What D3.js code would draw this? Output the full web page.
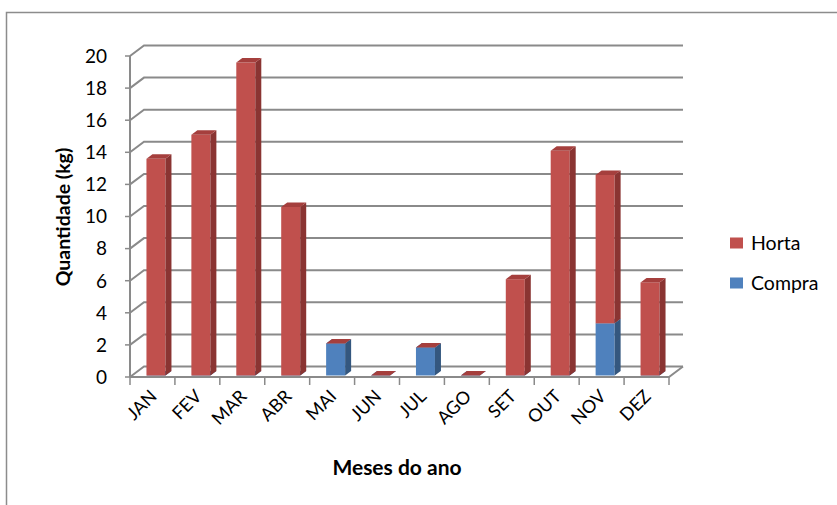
<!DOCTYPE html>
<html>
<head>
<meta charset="utf-8">
<script src="https://cdn.jsdelivr.net/npm/d3@7"></script>
<style>
  html, body { margin: 0; padding: 0; background: #fff; }
  svg { display: block; font-family: Lato, "Open Sans", sans-serif; }
</style>
</head>
<body>
<svg id="chart" width="837" height="505"></svg>
<script>
// Monthly quantities (kg): produced in the garden vs. purchased
const months = ["JAN", "FEV", "MAR", "ABR", "MAI", "JUN", "JUL", "AGO", "SET", "OUT", "NOV", "DEZ"];
const horta  = [13.5, 15, 19.5, 10.5, 0, 0, 0, 0, 6, 14, 9.25, 5.8];
const compra = [0, 0, 0, 0, 2, 0, 1.75, 0, 0, 0, 3.25, 0];
const yTicks = [0, 2, 4, 6, 8, 10, 12, 14, 16, 18, 20];
const seriesNames = ["Horta", "Compra"];

const colors = {
  Horta:  { front: "#C0504D", side: "#8A3432", top: "#A53F3D" },
  Compra: { front: "#4F81BD", side: "#34577F", top: "#4471A6" }
};

const svg = d3.select("#chart");

// outer chart-area frame
svg.append("rect")
  .attr("x", 6.5).attr("y", 12.5)
  .attr("width", 900).attr("height", 600)
  .attr("fill", "none").attr("stroke", "#8c8c8c").attr("stroke-width", 1.5);

// plot geometry: front plane, back wall offset for the 3-D look
const x0 = 130, x1 = 669;
const depth = { dx: 14, dy: -10.5 };
const x = d3.scaleBand().domain(months).range([x0, x1]);
const yFront = d3.scaleLinear().domain([0, 20]).range([377, 56]);
const yBar = d3.scaleLinear().domain([0, 20]).range([375.5, 54.5]);

const grid = svg.append("g").attr("stroke", "#8a8a8a").attr("fill", "none");

// back-wall gridlines with their receding segment to the front axis
yTicks.forEach(v => {
  const yf = yFront(v), yb = yf + depth.dy;
  grid.append("path")
    .attr("d", `M${x0},${yf}L${x0 + depth.dx},${yb}L${x1 + depth.dx},${yb}`)
    .attr("stroke-width", 2);
  grid.append("line")
    .attr("x1", x0 - 5).attr("x2", x0)
    .attr("y1", yf).attr("y2", yf)
    .attr("stroke-width", 1.5);
});

// vertical axis line
grid.append("line")
  .attr("x1", x0).attr("x2", x0)
  .attr("y1", yFront(20)).attr("y2", yFront(0))
  .attr("stroke-width", 2);

// floor: front edge and right receding edge
grid.append("path")
  .attr("d", `M${x0},${yFront(0)}L${x1},${yFront(0)}L${x1 + depth.dx},${yFront(0) + depth.dy}`)
  .attr("stroke-width", 2);

// category tick marks below the floor
d3.range(months.length + 1).forEach(i => {
  const xt = x0 + i * x.step();
  grid.append("line")
    .attr("x1", xt).attr("x2", xt)
    .attr("y1", yFront(0)).attr("y2", yFront(0) + 8)
    .attr("stroke-width", 1.5);
});

// y tick labels
svg.append("g").selectAll("text")
  .data(yTicks).join("text")
  .attr("x", 107).attr("y", d => yFront(d))
  .attr("dy", "0.36em")
  .attr("text-anchor", "end")
  .attr("font-size", 19)
  .attr("fill", "#000")
  .text(d => d);

// stacked columns drawn as boxes (front, top, side faces)
const rows = months.map((m, i) => ({ month: m, Horta: horta[i], Compra: compra[i] }));
const stack = d3.stack().keys(["Compra", "Horta"]);
const layers = stack(rows);

const barW = 19, barShift = 3.5, bd = { dx: 6, dy: -4.5 };
const bars = svg.append("g");

months.forEach((m, i) => {
  const bx = x(m) + (x.step() - barW) / 2 + barShift;
  layers.forEach(layer => {
    const key = layer.key;
    const [v0, v1] = layer[i];
    const yt = yBar(v1), yb = yBar(v0);
    const c = colors[key];
    const g = bars.append("g");
    if (yb - yt > 0) {
      g.append("rect")
        .attr("x", bx).attr("y", yt)
        .attr("width", barW).attr("height", yb - yt)
        .attr("fill", c.front);
      g.append("path")
        .attr("d", `M${bx + barW},${yt}L${bx + barW + bd.dx},${yt + bd.dy}L${bx + barW + bd.dx},${yb + bd.dy}L${bx + barW},${yb}Z`)
        .attr("fill", c.side);
    }
    g.append("path")
      .attr("d", `M${bx},${yt}L${bx + bd.dx},${yt + bd.dy}L${bx + barW + bd.dx},${yt + bd.dy}L${bx + barW},${yt}Z`)
      .attr("fill", c.top);
  });
});

// month labels, rotated
svg.append("g").selectAll("text")
  .data(months).join("text")
  .attr("transform", d => `translate(${x(d) + x.step() / 2 + 1},${393}) rotate(-45)`)
  .attr("text-anchor", "end")
  .attr("dy", "0.35em")
  .attr("font-size", 18)
  .attr("fill", "#000")
  .text(d => d);

// axis titles
svg.append("text")
  .attr("x", 397).attr("y", 475)
  .attr("text-anchor", "middle")
  .attr("font-size", 21).attr("font-weight", "bold")
  .attr("fill", "#000")
  .text("Meses do ano");

svg.append("text")
  .attr("transform", "translate(70,217) rotate(-90)")
  .attr("text-anchor", "middle")
  .attr("font-size", 19.5).attr("font-weight", "bold")
  .attr("fill", "#000")
  .text("Quantidade (kg)");

// legend
const legend = svg.append("g");
seriesNames.forEach((s, i) => {
  const ly = 243 + i * 40;
  legend.append("rect")
    .attr("x", 730).attr("y", ly - 5.5)
    .attr("width", 13).attr("height", 11)
    .attr("fill", colors[s].front);
  legend.append("text")
    .attr("x", 751).attr("y", ly)
    .attr("dy", "0.36em")
    .attr("font-size", 19.5)
    .attr("fill", "#000")
    .text(s);
});
</script>
</body>
</html>
